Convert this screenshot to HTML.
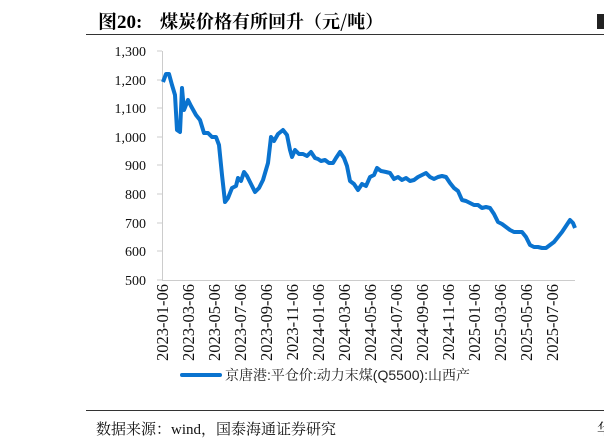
<!DOCTYPE html>
<html><head><meta charset="utf-8"><style>
body{margin:0;background:#fff;width:604px;height:447px;overflow:hidden;font-family:"Liberation Serif","Noto Serif CJK SC",serif}
</style></head><body>
<svg width="604" height="447" xmlns="http://www.w3.org/2000/svg" style="position:absolute;left:0;top:0">
<text x="98" y="28" font-size="19" font-weight="bold" font-family="Liberation Serif,Noto Serif CJK SC,serif">图20:</text>
<text x="160" y="28" font-size="18" font-family="Noto Serif CJK SC,serif" font-weight="bold">煤炭价格有所回升（元/吨）</text>
<rect x="597" y="14" width="7" height="15" fill="#222"/>
<line x1="86" y1="34.5" x2="604" y2="34.5" stroke="#333" stroke-width="1"/>
<g font-size="14" text-anchor="end" fill="#111">
<text x="146" y="56">1,300</text><text x="146" y="85">1,200</text><text x="146" y="113">1,100</text><text x="146" y="142">1,000</text>
<text x="146" y="170">900</text><text x="146" y="199">800</text><text x="146" y="228">700</text><text x="146" y="256">600</text><text x="146" y="285">500</text>
</g>
<line x1="162.5" y1="51" x2="162.5" y2="281" stroke="#ccc"/>
<line x1="162" y1="280.5" x2="575" y2="280.5" stroke="#ccc"/>
<g stroke="#ccc">
<line x1="157" y1="51" x2="162" y2="51"/><line x1="157" y1="80" x2="162" y2="80"/><line x1="157" y1="108" x2="162" y2="108"/><line x1="157" y1="137" x2="162" y2="137"/><line x1="157" y1="165" x2="162" y2="165"/><line x1="157" y1="194" x2="162" y2="194"/><line x1="157" y1="223" x2="162" y2="223"/><line x1="157" y1="251" x2="162" y2="251"/><line x1="157" y1="280" x2="162" y2="280"/>
</g>
<g font-size="16.5" fill="#111" text-anchor="end">
<text transform="translate(168,284) rotate(-90)">2023-01-06</text>
<text transform="translate(194,284) rotate(-90)">2023-03-06</text>
<text transform="translate(220,284) rotate(-90)">2023-05-06</text>
<text transform="translate(246,284) rotate(-90)">2023-07-06</text>
<text transform="translate(272,284) rotate(-90)">2023-09-06</text>
<text transform="translate(298,284) rotate(-90)">2023-11-06</text>
<text transform="translate(324,284) rotate(-90)">2024-01-06</text>
<text transform="translate(350,284) rotate(-90)">2024-03-06</text>
<text transform="translate(376,284) rotate(-90)">2024-05-06</text>
<text transform="translate(402,284) rotate(-90)">2024-07-06</text>
<text transform="translate(428,284) rotate(-90)">2024-09-06</text>
<text transform="translate(454,284) rotate(-90)">2024-11-06</text>
<text transform="translate(480,284) rotate(-90)">2025-01-06</text>
<text transform="translate(506,284) rotate(-90)">2025-03-06</text>
<text transform="translate(532,284) rotate(-90)">2025-05-06</text>
<text transform="translate(558,284) rotate(-90)">2025-07-06</text>
</g>
<polyline fill="none" stroke="#0a73cf" stroke-width="4" stroke-linejoin="round" points="163,82 166,74 169,74 172,85 175,95 177,130 180,132 182,88 184,110 186,105 188,100 191,106 196,115 200,120 204,133 208,133 212,137 216,137 219,145 222,175 225,202 228,198 232,188 236,186 238,178 241,181 244,172 247,176 251,184 255,192 259,188 263,180 268,163 271,137 274,141 278,134 283,130 287,135 290,150 292,157 295,150 299,154 303,154 307,156 311,152 315,158 318,159 321,161 325,160 329,163 333,163 336,158 340,152 344,158 347,166 350,181 354,184 358,190 362,184 366,186 370,177 374,175 377,168 381,171 386,172 390,173 394,179 398,177 402,180 406,178 410,181 414,180 418,177 422,175 426,173 430,177 434,179 438,177 442,176 446,177 450,183 454,188 458,191 462,200 466,201 470,203 474,205 478,205 482,208 486,207 490,208 494,214 498,222 502,224 506,227 510,230 514,232 518,232 522,232 526,237 530,245 534,247 538,247 542,248 546,248 550,245 554,242 558,237 562,232 566,226 570,220 573,223 575,228"/>
<line x1="182" y1="375" x2="220" y2="375" stroke="#0a73cf" stroke-width="4" stroke-linecap="round"/>
<text x="225" y="380" font-size="14" font-family="Liberation Sans,Noto Serif CJK SC,serif" fill="#222">京唐港:平仓价:动力末煤(Q5500):山西产</text>
<line x1="86" y1="410.5" x2="604" y2="410.5" stroke="#333"/>
<text x="96" y="434" font-size="15" font-family="Liberation Serif,Noto Serif CJK SC,serif" fill="#111">数据来源：wind，国泰海通证券研究</text>
<text x="597" y="434" font-size="15" font-family="Noto Serif CJK SC,serif" fill="#111">华</text>
</svg>
</body></html>
